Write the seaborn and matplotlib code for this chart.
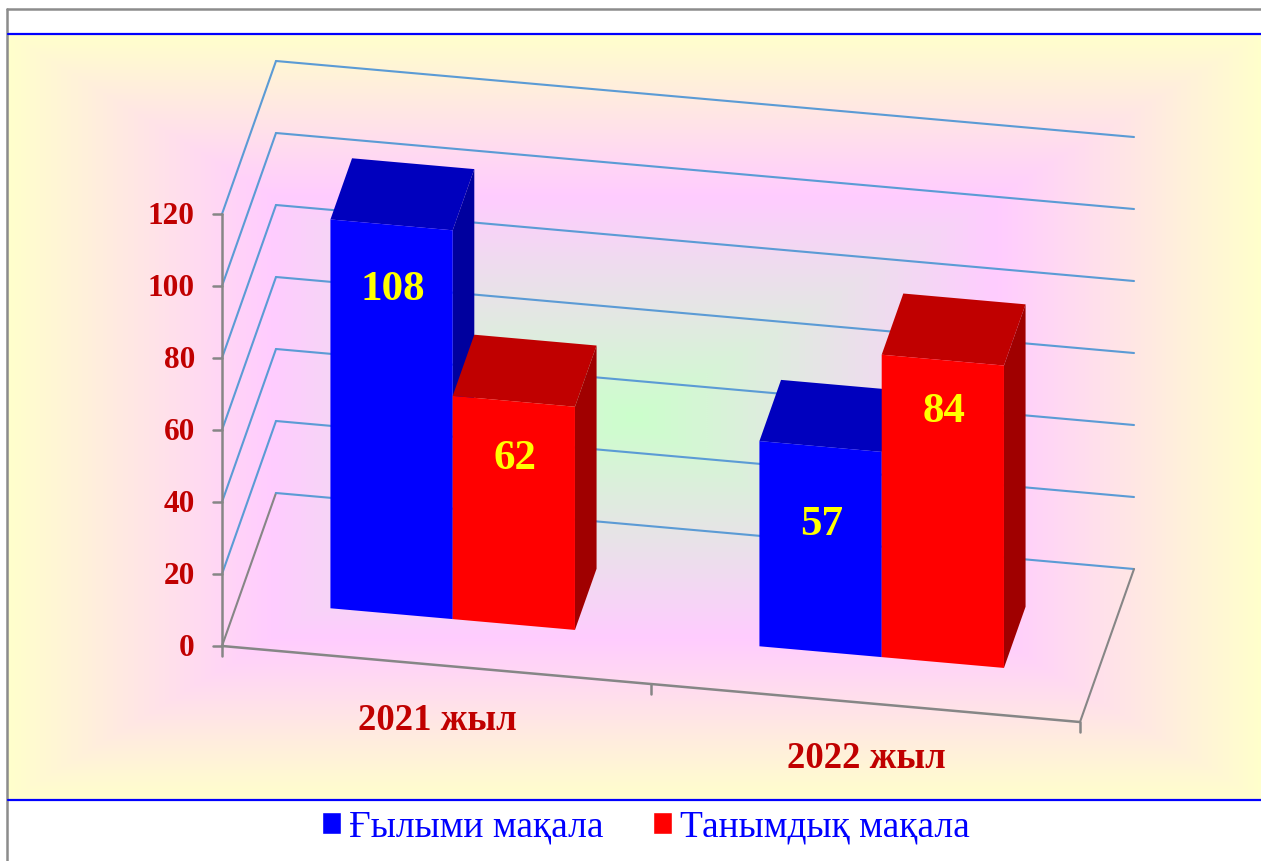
import numpy as np
import pandas as pd
import matplotlib
matplotlib.use("Agg")
import matplotlib.pyplot as plt
from matplotlib.colors import LinearSegmentedColormap
from matplotlib.patches import Polygon
from matplotlib.transforms import Affine2D
import seaborn as sns

# Data
years = ["2021 жыл", "2022 жыл"]
series_names = ["Ғылыми мақала", "Танымдық мақала"]
science_articles = [108, 57]
popular_articles = [62, 84]
y_ticks = [0, 20, 40, 60, 80, 100, 120]

# Colours
front_colors = ["#0000FF", "#FF0000"]
top_colors = ["#0000BE", "#C00000"]
side_colors = ["#00009E", "#A00000"]
label_red = "#C00000"

# Pixel layout of the fake 3D box
W, H = 1261, 861
X0, Y0 = 222, 646          # front left corner of the floor
CAT_W = 429                # width of one category on the floor
SLOPE = 0.0886             # floor runs downhill to the right
PX_PER_UNIT = 3.6
DEPTH_X, DEPTH_Y = 54, -153
BAR_NEAR, BAR_FAR = 0.3, 0.7

df = pd.DataFrame({
    "year": years * 2,
    "kind": [series_names[0]] * 2 + [series_names[1]] * 2,
    "count": science_articles + popular_articles,
})

sns.set_theme(style="white")
plt.rcParams["font.family"] = ["Liberation Serif", "DejaVu Serif"]

fig = plt.figure(figsize=(W / 100, H / 100), dpi=100, facecolor="white")

# Background gradient (rectangular path gradient)
bg = fig.add_axes([8 / W, 1 - 800 / H, (W - 8) / W, (800 - 34) / H])
gx, gy = np.meshgrid(np.linspace(-1, 1, 626), np.linspace(-1, 1, 383))
grad_t = np.maximum(np.abs(gx), np.abs(gy))
grad_cmap = LinearSegmentedColormap.from_list(
    "bg", [(0, "#CCFFCC"), (0.58, "#FFCCFF"), (1, "#FFFFCC")]
)
bg.imshow(grad_t, cmap=grad_cmap, vmin=0, vmax=1, aspect="auto", interpolation="bilinear")
bg.set_axis_off()

ax = fig.add_axes([0, 0, 1, 1])
ax.patch.set_alpha(0)

# top-down image pixels -> display
pix = Affine2D().scale(1, -1).translate(0, H)


def proj(x, v, d=0.0):
    run = CAT_W * (x + 0.5)
    return (X0 + run + DEPTH_X * d, Y0 + SLOPE * run - PX_PER_UNIT * v + DEPTH_Y * d)


def plane(d):
    origin = proj(0, 0, d)
    return Affine2D(np.array([
        [CAT_W, 0, origin[0]],
        [SLOPE * CAT_W, -PX_PER_UNIT, origin[1]],
        [0, 0, 1],
    ])) + pix


sns.barplot(
    data=df, x="year", y="count", hue="kind", hue_order=series_names,
    palette=front_colors, saturation=1, width=0.57, gap=0, dodge=True, ax=ax,
)

# Walls and grid
grid_color = "#5B9BD5"
axis_color = "#868686"
x_left, x_right = -0.5, 1.5
for tick in y_ticks:
    a = proj(x_left, tick, 0)
    b = proj(x_left, tick, 1)
    c = proj(x_right, tick, 1)
    color = axis_color if tick == 0 else grid_color
    ax.plot([a[0], b[0]], [a[1], b[1]], color=color, lw=1.5, transform=pix, zorder=0.5)
    ax.plot([b[0], c[0]], [b[1], c[1]], color=grid_color, lw=1.5, transform=pix, zorder=0.5)
    ax.plot([a[0] - 9, a[0]], [a[1], a[1]], color=axis_color, lw=1.8, transform=pix, zorder=0.6)
    ax.text(a[0] - 27, a[1] + 2.5, str(tick), color=label_red, fontsize=22.5, fontweight="bold",
            ha="right", va="center", transform=pix)

# Axis lines
top_left = proj(x_left, y_ticks[-1], 0)
bottom_left = proj(x_left, 0, 0)
ax.plot([top_left[0], bottom_left[0]], [top_left[1], bottom_left[1] + 10], color=axis_color,
        lw=1.8, transform=pix, zorder=0.6)
front_r = proj(x_right, 0, 0)
back_r = proj(x_right, 0, 1)
ax.plot([bottom_left[0], front_r[0]], [bottom_left[1], front_r[1]], color=axis_color, lw=1.8,
        transform=pix, zorder=0.6)
ax.plot([front_r[0], back_r[0]], [front_r[1], back_r[1]], color=axis_color, lw=1.5,
        transform=pix, zorder=0.6)
for tick_x in [0.5, 1.5]:
    p = proj(tick_x, 0, 0)
    ax.plot([p[0], p[0]], [p[1], p[1] + 10], color=axis_color, lw=1.8, transform=pix, zorder=0.6)

# Category labels
for i, year in enumerate(years):
    p = proj(i, 0, 0)
    ax.text(p[0] + 1, p[1] + 55.5, year, color=label_red, fontsize=26.5, fontweight="bold",
            ha="center", va="center", transform=pix)

# Turn seaborn's flat bars into boxes, left to right
# (seaborn also keeps empty patches for the legend, skip those)
bars = sorted([b for b in ax.patches if b.get_height() > 0], key=lambda b: b.get_x())
label_drops = [65, 58, 79, 52]
for n, bar in enumerate(bars):
    kind = 0 if bar.get_facecolor()[2] > 0.5 else 1
    x1 = bar.get_x()
    x2 = x1 + bar.get_width()
    v = bar.get_height()
    z = 2 + n
    bar.set_transform(plane(BAR_NEAR))
    bar.set_linewidth(0)
    bar.set_zorder(z + 0.2)
    top = [proj(x1, v, BAR_NEAR), proj(x2, v, BAR_NEAR), proj(x2, v, BAR_FAR), proj(x1, v, BAR_FAR)]
    side = [proj(x2, 0, BAR_NEAR), proj(x2, v, BAR_NEAR), proj(x2, v, BAR_FAR), proj(x2, 0, BAR_FAR)]
    ax.add_patch(Polygon(top, closed=True, facecolor=top_colors[kind], lw=0, transform=pix, zorder=z))
    ax.add_patch(Polygon(side, closed=True, facecolor=side_colors[kind], lw=0, transform=pix, zorder=z + 0.1))
    c = proj((x1 + x2) / 2, v, BAR_NEAR)
    ax.text(c[0] + 1, c[1] + label_drops[n], f"{v:.0f}", color="#FFFF00", fontsize=31, fontweight="bold",
            ha="center", va="center", transform=pix, zorder=20)

# Frame lines
ax.plot([7, 7], [9, H], color="#8C8C8C", lw=1.8, transform=pix, zorder=30)
ax.plot([7, W], [9, 9], color="#8C8C8C", lw=1.8, transform=pix, zorder=30)
ax.plot([8, W], [34, 34], color="#0000FF", lw=1.6, transform=pix, zorder=30)
ax.plot([8, W], [800, 800], color="#0000FF", lw=1.6, transform=pix, zorder=30)

sns.move_legend(
    ax, "center", bbox_to_anchor=(646, 827), bbox_transform=pix, ncol=2, title=None,
    frameon=False, fontsize=27, labelcolor="#0000FF", handlelength=0.5, handleheight=0.5,
    handletextpad=0.21, columnspacing=1.33, borderpad=0, borderaxespad=0,
)

ax.set_xlim(-0.5, 1.5)
ax.set_ylim(0, 120)
ax.set_axis_off()

plt.savefig("out.png", dpi=100)
